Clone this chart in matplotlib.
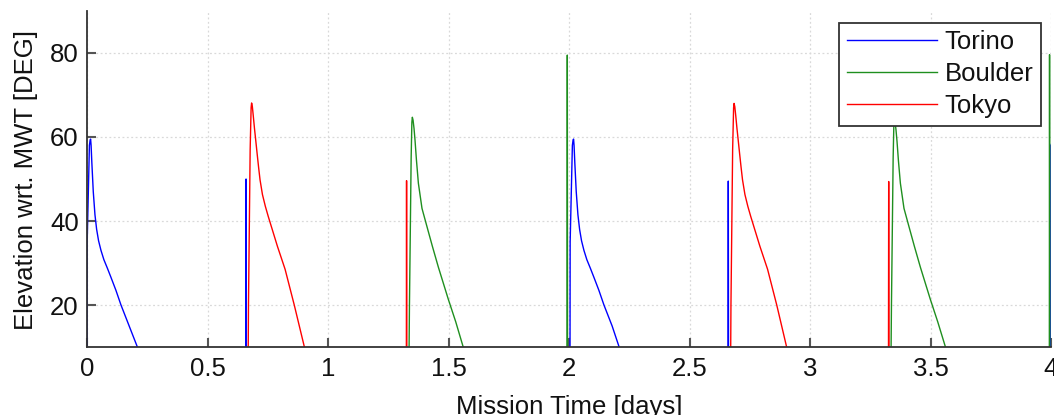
import matplotlib
matplotlib.use("Agg")
import matplotlib.pyplot as plt

plt.rcParams['font.family'] = ['Liberation Sans', 'DejaVu Sans']

# ---- data (mission time in days, elevation in degrees; values below 10 are below the visible range)
torino_t = [0.000, 0.0008, 0.010, 0.013, 0.015, 0.017, 0.020, 0.026, 0.033, 0.040, 0.048, 0.058, 0.070, 0.085,
            0.100, 0.120, 0.141, 0.175, 0.209, 0.213,
            0.6590, 0.6600, 0.6610,
            2.004, 2.0048, 2.014, 2.017, 2.019, 2.021, 2.024, 2.030, 2.037, 2.044, 2.052, 2.062, 2.074, 2.089,
            2.104, 2.124, 2.145, 2.179, 2.208, 2.212,
            2.6600, 2.6610, 2.6620,
            3.9990, 3.9995, 4.009, 4.014]
torino_el = [0.0, 35.0, 58.0, 59.3, 59.5, 58.0, 54.0, 47.0, 41.5, 38.0, 35.3, 33.0, 30.8, 28.7,
             26.5, 23.5, 20.0, 15.0, 10.0, 0.0,
             0.0, 50.0, 0.0,
             0.0, 35.0, 58.0, 59.3, 59.5, 58.0, 54.0, 47.0, 41.5, 38.0, 35.3, 33.0, 30.8, 28.7,
             26.5, 23.5, 20.0, 15.0, 10.0, 0.0,
             0.0, 49.5, 0.0,
             0.0, 58.0, 59.3, 59.5]

boulder_t = [1.335, 1.338, 1.345, 1.348, 1.350, 1.353, 1.357, 1.361, 1.367, 1.375, 1.390, 1.410, 1.433, 1.458,
             1.499, 1.530, 1.561, 1.565,
             1.9920, 1.9930, 1.9940,
             3.335, 3.338, 3.345, 3.348, 3.350, 3.353, 3.357, 3.361, 3.367, 3.375, 3.390, 3.410, 3.433, 3.458,
             3.499, 3.530, 3.562, 3.566,
             3.9930, 3.9940, 3.9950]
boulder_el = [0.0, 20.0, 55.0, 63.5, 64.7, 64.0, 62.0, 59.3, 54.5, 49.0, 43.0, 38.8, 34.0, 29.0,
              21.4, 16.0, 10.0, 0.0,
              0.0, 79.5, 0.0,
              0.0, 20.0, 55.0, 63.2, 64.3, 63.6, 61.6, 59.0, 54.3, 49.0, 43.0, 38.8, 34.0, 29.0,
              21.4, 16.0, 10.0, 0.0,
              0.0, 79.6, 0.0]

tokyo_t = [0.668, 0.670, 0.677, 0.681, 0.683, 0.686, 0.690, 0.695, 0.700, 0.706, 0.712, 0.718, 0.728, 0.740,
           0.752, 0.790, 0.822, 0.860, 0.902, 0.906,
           1.3250, 1.3260, 1.3270,
           2.670, 2.672, 2.679, 2.683, 2.685, 2.688, 2.692, 2.697, 2.702, 2.708, 2.714, 2.720, 2.730, 2.742,
           2.754, 2.792, 2.824, 2.862, 2.903, 2.907,
           3.3255, 3.3265, 3.3275]
tokyo_el = [0.0, 20.0, 57.0, 67.0, 68.1, 67.3, 65.0, 62.0, 59.3, 56.0, 52.8, 49.8, 46.3, 43.5,
            41.1, 34.0, 28.5, 20.0, 10.0, 0.0,
            0.0, 49.6, 0.0,
            0.0, 20.0, 57.0, 67.0, 68.0, 67.2, 65.0, 62.0, 59.3, 56.0, 52.8, 49.8, 46.3, 43.5,
            41.1, 34.0, 28.5, 20.0, 10.0, 0.0,
            0.0, 49.4, 0.0]

series_names = ['Torino', 'Boulder', 'Tokyo']
series_colors = ['#0000ff', '#1f8f1f', '#ff0000']

x_ticks = [0, 0.5, 1, 1.5, 2, 2.5, 3, 3.5, 4]
x_ticklabels = ['0', '0.5', '1', '1.5', '2', '2.5', '3', '3.5', '4']
y_ticks = [20, 40, 60, 80]
y_ticklabels = ['20', '40', '60', '80']

FS = 18.5
TXT = '#111111'
AXC = '#333333'

fig = plt.figure(figsize=(10.54, 4.15), dpi=100)
ax = fig.add_axes([87 / 1054, 1 - 347 / 415, 964 / 1054, 336 / 415])

for (tt, ee), name, col in zip([(torino_t, torino_el), (boulder_t, boulder_el), (tokyo_t, tokyo_el)],
                               series_names, series_colors):
    ax.plot(tt, ee, color=col, lw=1.0, label=name)

ax.set_xlim(0, 4)
ax.set_ylim(10, 90)
ax.set_xticks(x_ticks)
ax.set_xticklabels(x_ticklabels)
ax.set_yticks(y_ticks)
ax.set_yticklabels(y_ticklabels)

for s in ['top', 'right']:
    ax.spines[s].set_visible(False)
for s in ['left', 'bottom']:
    ax.spines[s].set_color(AXC)
    ax.spines[s].set_linewidth(1.3)

ax.tick_params(axis='both', direction='in', length=6.5, width=1.5, color='#555555',
               labelsize=FS, labelcolor=TXT)
ax.tick_params(axis='x', pad=7)
ax.tick_params(axis='y', pad=6)

ax.grid(True, color='#d9d9d9', linestyle=(0, (1.5, 2.0)), linewidth=0.9)
ax.set_axisbelow(True)

leg = ax.legend(loc='upper right', bbox_to_anchor=(0.9896, 0.9652), borderaxespad=0,
                fontsize=FS, frameon=True, fancybox=False, framealpha=1,
                edgecolor=AXC, borderpad=0.3, labelspacing=0.3,
                handlelength=3.5, handletextpad=0.31)
leg.get_frame().set_linewidth(1.3)
for t in leg.get_texts():
    t.set_color(TXT)

fig.text(25.7 / 1054, 1 - 180 / 415, 'Elevation wrt. MWT [DEG]', rotation=90,
         ha='center', va='center', fontsize=FS, color=TXT)
fig.text(569 / 1054, 1 - 413.5 / 415, 'Mission Time [days]', ha='center', va='baseline',
         fontsize=FS, color=TXT)

fig.savefig('out.png', dpi=100)
